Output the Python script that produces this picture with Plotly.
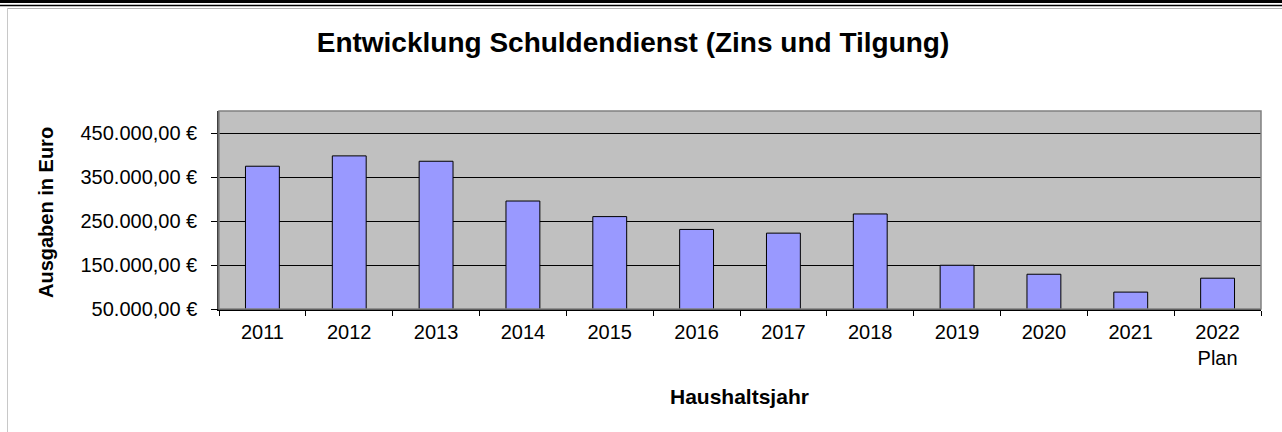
import plotly.graph_objects as go

# Data
years = ["2011", "2012", "2013", "2014", "2015", "2016", "2017", "2018",
         "2019", "2020", "2021", "2022<br>Plan"]
ausgaben = [374500, 398000, 385800, 295400, 260000, 230800, 222400, 266000,
            149400, 129000, 88400, 120000]

title_text = "Entwicklung Schuldendienst (Zins und Tilgung)"
y_title = "Ausgaben in Euro"
x_title = "Haushaltsjahr"

W, H = 1282, 432
L, R, T, B = 219, 21, 111, 123
PW, PH = W - L - R, H - T - B

def px_x(px):
    return (px - L) / PW

def px_y(py):
    return (H - B - py) / PH

FONT = "Liberation Sans, Arial, sans-serif"

fig = go.Figure()
fig.add_trace(go.Bar(
    x=years, y=ausgaben,
    marker=dict(color="#9999FF", line=dict(color="black", width=1)),
    width=0.39,
    hoverinfo="skip",
))

shapes = [
    # plot area border (grey)
    dict(type="rect", xref="paper", yref="paper", x0=0, x1=1, y0=0, y1=1,
         line=dict(color="#808080", width=1.5), layer="above"),
    # sheet decoration: double rule at top
    dict(type="line", xref="paper", yref="paper", x0=px_x(0), x1=px_x(W),
         y0=px_y(1.5), y1=px_y(1.5), line=dict(color="black", width=3)),
    dict(type="line", xref="paper", yref="paper", x0=px_x(0), x1=px_x(W),
         y0=px_y(5.5), y1=px_y(5.5), line=dict(color="black", width=1.5)),
    dict(type="line", xref="paper", yref="paper", x0=px_x(7), x1=px_x(W),
         y0=px_y(8.5), y1=px_y(8.5), line=dict(color="#b0b0b0", width=1)),
    dict(type="line", xref="paper", yref="paper", x0=px_x(7.5), x1=px_x(7.5),
         y0=px_y(8), y1=px_y(H), line=dict(color="#c8c8c8", width=1)),
]

annotations = [
    dict(text="<b>" + y_title + "</b>", xref="paper", yref="paper",
         x=px_x(45.5), y=px_y(212.5), textangle=-90, showarrow=False,
         font=dict(family=FONT, size=20, color="black"),
         xanchor="center", yanchor="middle"),
    dict(text="<b>" + x_title + "</b>", xref="paper", yref="paper",
         x=px_x(739), y=px_y(396), showarrow=False,
         font=dict(family=FONT, size=21, color="black"),
         xanchor="center", yanchor="middle"),
]

fig.update_layout(
    width=W, height=H,
    margin=dict(l=L, r=R, t=T, b=B, autoexpand=False),
    paper_bgcolor="white",
    plot_bgcolor="#C0C0C0",
    separators=",.",
    showlegend=False,
    title=dict(text="<b>" + title_text + "</b>", x=633 / W, y=1 - 42 / H,
               xanchor="center", yanchor="middle",
               font=dict(family=FONT, size=28, color="black")),
    font=dict(family=FONT, size=20, color="black"),
    shapes=shapes,
    annotations=annotations,
    bargap=0.61,
)

fig.update_xaxes(
    type="category",
    showline=True, linecolor="black", linewidth=1.5,
    ticks="outside", tickson="boundaries", ticklen=5, tickcolor="black",
    tickfont=dict(family=FONT, size=20, color="black"),
    ticklabelstandoff=4,
    showgrid=False,
)

fig.update_yaxes(
    range=[50000, 500000],
    tick0=50000, dtick=100000,
    tickformat=",.2f", ticksuffix=" €",
    showline=True, linecolor="#404040", linewidth=1.5,
    ticks="outside", ticklen=6, tickcolor="black",
    tickfont=dict(family=FONT, size=20, color="black"),
    ticklabelstandoff=10,
    showgrid=True, gridcolor="black", gridwidth=1,
    zeroline=False,
)

fig.write_html("out.html",
               config={"displayModeBar": False},
               post_script="document.body.style.margin='0px';")
